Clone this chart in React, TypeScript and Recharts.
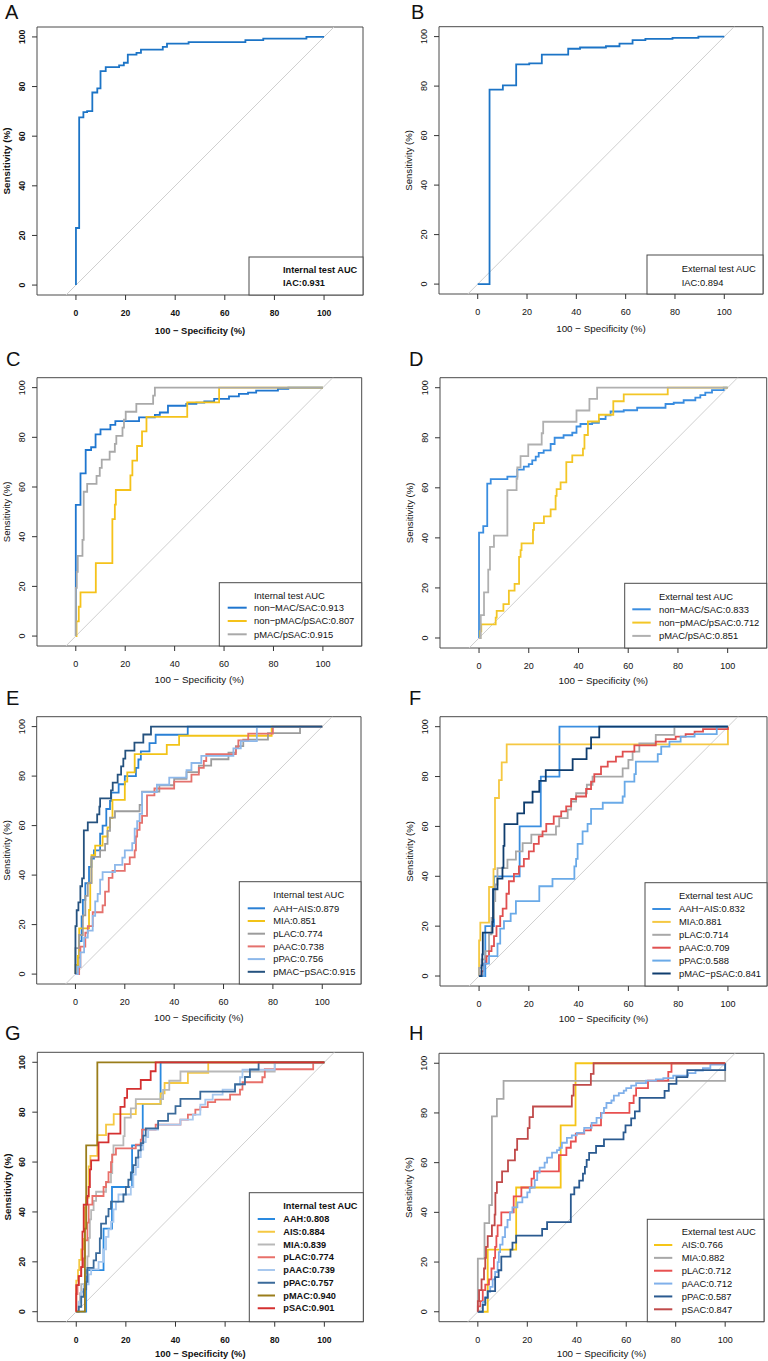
import React from 'react';
import { LineChart, Line, XAxis, YAxis, ReferenceLine, ReferenceArea } from 'recharts';

type Pt = [number, number];

const tickValues = [0, 20, 40, 60, 80, 100];
const xDomain: [number, number] = [-15.7, 115.7];
const yDomain: [number, number] = [-4, 104];
const xAxisTitle = '100 − Specificity (%)';
const yAxisTitle = 'Sensitivity (%)';

// ---------- Panel A ----------
const A_IAC: Pt[] = [[0,0],[0,23],[1.3,67.6],[3,69.7],[4.5,70.1],[6.6,77.6],[8.6,79.3],[9.9,86.2],[12,87.8],[17.4,88.5],[19.3,89.6],[20.9,92.9],[24.4,93.6],[26.2,94.9],[35,96],[36.7,97.3],[45.4,97.9],[68.3,98.7],[75.5,99.3],[92.9,100],[100,100]];
const labelsA = ['IAC:0.931'];

// ---------- Panel B ----------
const B_IAC: Pt[] = [[0,0],[4.8,0.4],[4.8,78.6],[10.2,80.3],[15.6,88.8],[20.9,89.2],[26,92.7],[36.7,95.1],[41.5,95.6],[52,96.1],[57.5,97.2],[62.8,98.6],[68,99.1],[79,99.5],[89.5,100],[100,100]];
const labelsB = ['IAC:0.894'];

// ---------- Panel C ----------
const C_nonMAC: Pt[] = [[0,0],[0,52.8],[1.9,65.5],[4,74.9],[6.2,76],[8,81.2],[10,83.2],[14,85],[16,86.5],[25.6,88],[32,89],[34,90],[37.3,92.7],[44.7,93.5],[48.8,94],[52,94.5],[56,95.5],[62,96.5],[66,97.5],[69.7,98],[73,98.8],[81.8,99.5],[86,100],[100,100]];
const C_nonPMAC: Pt[] = [[0,0],[0.3,5.9],[1.2,11.8],[1.9,17.6],[8.1,29.4],[14.8,47.1],[15.8,52.9],[16.2,58.8],[22.1,64.7],[22.9,70.6],[24.8,76.5],[26.8,82.4],[28.6,88.2],[45.1,94.1],[58,100],[100,100]];
const C_pMAC: Pt[] = [[0,0],[0,19.4],[0.4,25.8],[0.8,32.3],[2.7,38.7],[3.2,58.1],[4.6,61.3],[8.4,64.5],[9.7,67.7],[10.5,71],[13.7,74.2],[15.8,77.4],[16.4,80.6],[18.9,83.9],[19.5,87.1],[20.2,90.3],[24.5,93.5],[31.3,96.8],[32,100],[100,100]];
const labelsC = ['non−MAC/SAC:0.913', 'non−pMAC/pSAC:0.807', 'pMAC/pSAC:0.915'];

// ---------- Panel D ----------
const D_nonMAC: Pt[] = [[0,0],[0,42.1],[1.7,44.7],[3.3,61.7],[4.7,63.5],[11.4,64.5],[15.4,67.3],[18,68.5],[20,69.5],[21.4,71],[22.8,72.5],[24,74],[26,75],[28.8,77.5],[30.4,80],[34,81],[37.5,82],[39.2,84.5],[40.8,85.5],[45.5,86],[48.2,87.5],[50.9,89],[52.9,90.5],[58.2,91],[63.6,92],[75,93.5],[78.3,94],[82.3,95],[87,96],[89,97],[91,98],[93.7,99],[98.4,100],[100,100]];
const D_nonPMAC: Pt[] = [[0,0],[0.5,2.7],[0.9,5.4],[6.7,8.1],[7.1,10.8],[9.8,13.5],[12,18.9],[14.3,21.6],[16.1,32.4],[16.7,35.1],[17.1,37.8],[21.7,43.2],[22.1,45.9],[26.1,48.6],[28.8,51.4],[30.8,56.8],[31.2,59.5],[32.8,62.2],[35.1,70.3],[37.5,73],[41.8,75.7],[42.4,81.1],[43.8,86.5],[48.2,89.2],[54,94.6],[58.2,97.3],[75.9,100],[100,100]];
const D_pMAC: Pt[] = [[0,0],[0.7,9.1],[2,18.2],[3.7,27.3],[4.4,36.4],[6,40.9],[11.4,59.1],[15.1,63.6],[15.4,68.2],[16.7,72.7],[19.8,77.3],[25.2,81.8],[25.8,86.4],[39.2,90.9],[44.4,95.5],[47.5,100],[100,100]];
const labelsD = ['non−MAC/SAC:0.833', 'non−pMAC/pSAC:0.712', 'pMAC/pSAC:0.851'];

// ---------- Panel E ----------
const E_AAHAIS: Pt[] = [[0,0],[1,6.7],[1.5,13.3],[2.5,23.3],[3,30],[4,36.7],[5.5,43.3],[6.5,46.7],[7.5,50],[10,56.7],[11,60],[12.5,66.7],[14,70],[14.5,73.3],[17.5,76.7],[20,80],[24.5,83.3],[25.5,86.7],[26.5,90],[30,93.3],[32.5,96.7],[45.5,100],[100,100]];
const E_MIA: Pt[] = [[0,0],[0,3.7],[1,7.4],[1.5,18.5],[5.5,25.9],[6,37],[6.5,48.1],[8,51.9],[11,55.6],[13,59.3],[14,63],[15,70.4],[20,77.8],[21,81.5],[24,88.9],[37,92.6],[42,96.3],[79.5,100],[100,100]];
const E_pLAC: Pt[] = [[0,0],[0,10.5],[1.5,15.8],[3,23.7],[4,31.6],[5,36.8],[6.5,47.4],[10,50],[12,52.6],[13,57.9],[14,63.2],[16,65.8],[26,68.4],[27,73.7],[34,76.3],[40,78.9],[45,81.6],[50,84.2],[55,86.8],[62,89.5],[65,92.1],[68,94.7],[78,97.4],[91,100],[100,100]];
const E_pAAC: Pt[] = [[0,0],[1.5,2.8],[2,11.1],[4,16.7],[5,19.4],[7,25],[11,27.8],[12,33.3],[13.5,38.9],[15,41.7],[20,44.4],[22,47.2],[24,50],[24.5,55.6],[25,58.3],[26,61.1],[27,63.9],[29,72.2],[32,75],[40,77.8],[47,80.6],[50,83.3],[52,86.1],[53,88.9],[65,91.7],[66,94.4],[70,97.2],[80,100],[100,100]];
const E_pPAC: Pt[] = [[0,0],[1,2.9],[2,8.8],[3.5,14.7],[5,17.6],[7,23.5],[8,29.4],[9,32.4],[10,38.2],[11,41.2],[16,44.1],[19,47.1],[20,50],[23,52.9],[24,58.8],[25,61.8],[26,64.7],[27,73.5],[33,76.5],[38,79.4],[45,82.4],[47,85.3],[51,88.2],[64,91.2],[67,94.1],[73.5,100],[100,100]];
const E_pMACpSAC: Pt[] = [[0,0],[0,19.4],[0.5,25.8],[1.2,29],[2,35.5],[2.7,38.7],[3.4,58.1],[5,61.3],[8.8,64.5],[9.7,67.7],[10,71],[14.4,74.2],[15.1,77.4],[17.1,80.6],[18.5,83.9],[19.4,87.1],[20.2,90.3],[23.9,93.5],[27.5,96.8],[30.6,100],[100,100]];
const labelsE = ['AAH−AIS:0.879', 'MIA:0.851', 'pLAC:0.774', 'pAAC:0.738', 'pPAC:0.756', 'pMAC−pSAC:0.915'];

// ---------- Panel F ----------
const F_AAHAIS: Pt[] = [[0,0],[2.5,20],[6,40],[16.3,60],[24.8,80],[32.3,100],[100,100]];
const F_MIA: Pt[] = [[0,0],[0,14.3],[0.5,21.4],[4,35.7],[5.8,42.9],[6.4,71.4],[8,78.6],[9.1,85.7],[11.1,92.9],[100,100]];
const F_pLAC: Pt[] = [[0,0],[0,3.3],[1,6.7],[2.5,10],[4,16.7],[5,23.3],[6,30],[6.5,36.7],[7.4,43.3],[11.4,46.7],[14.8,50],[17.5,53.3],[21,56.7],[30.9,60],[32.2,63.3],[35.6,66.7],[37,70],[39,73.3],[43.3,76.7],[45.6,80],[57.7,83.3],[60,86.7],[61.7,90],[64.4,93.3],[71,96.7],[78.5,100],[100,100]];
const F_pAAC: Pt[] = [[0,0],[1,2],[2,5],[3,8],[4,10],[5,12],[6,16],[7,20],[8.5,24],[9.5,27],[11,33],[12,38],[14,41],[16,44],[18,47],[20,50],[22,53],[24,56],[25.5,58],[27,61],[30,64],[33,66],[35,68],[37,71],[39,72],[43,75],[45,78],[46.3,81],[49,84],[51.7,86],[55,88],[57.7,90],[62.4,92.5],[71,94],[75,95],[79,96],[83,97],[86.6,98],[90,99],[100,100]];
const F_pPAC: Pt[] = [[0,0],[2,5],[4,8],[7.4,13],[8.5,19],[10,22],[12.7,25],[14.8,30],[24.2,36],[29.5,39],[38.3,44],[39,47],[39.6,53],[41.6,58],[43.6,61],[45,67],[49.7,69.5],[57.7,72],[58.5,78],[62.4,81],[63,86],[71.8,89],[73.2,92],[76.5,94],[81,96],[86.6,97],[95.5,100],[100,100]];
const F_pMACpSAC: Pt[] = [[0,0],[1,4.3],[1.3,8.7],[1.5,17.4],[5.4,21.7],[5.6,34.8],[7.4,39.1],[9.4,43.5],[9.8,52.2],[10.2,60.9],[15.4,65.2],[18.1,69.6],[21.5,73.9],[24.2,78.3],[26.8,82.6],[37.6,87],[43.2,91.3],[45,95.7],[48.3,100],[100,100]];
const labelsF = ['AAH−AIS:0.832', 'MIA:0.881', 'pLAC:0.714', 'pAAC:0.709', 'pPAC:0.588', 'pMAC−pSAC:0.841'];

// ---------- Panel G ----------
const G_AAH: Pt[] = [[0,0],[4,16.7],[11,33.3],[14.4,50],[22.5,66.7],[26.8,83.3],[34,100],[100,100]];
const G_AIS: Pt[] = [[0,0],[0,12.5],[0.7,16.7],[1.2,20.8],[2,25],[3,29.2],[3.5,41.7],[4,45.8],[5,58.3],[5.7,62.5],[8.5,70.8],[12,75],[15.1,79.2],[24,83.3],[34,87.5],[35.6,91.7],[45,95.8],[53.2,100],[100,100]];
const G_MIA: Pt[] = [[0,0],[1,3.7],[1.5,7.4],[2,11.1],[3.5,14.8],[4.5,22.2],[5,29.6],[5.5,37],[6,40.7],[7,44.4],[8,48.1],[12,51.9],[14,55.6],[14.5,63],[15,66.7],[19,70.4],[19.5,77.8],[22,81.5],[24,85.2],[35,88.9],[37.5,92.6],[42,96.3],[80,100],[100,100]];
const G_pLAC: Pt[] = [[0,0],[0,7.1],[0.5,10.7],[1,14.3],[2,17.9],[3,21.4],[3.5,28.6],[4.5,35.7],[5,42.9],[6.5,46.4],[11,50],[12,52],[13,56],[14,60],[14.5,63],[16,65.5],[24,67],[26,69],[26.5,73],[32,75],[42,77],[45,79],[48,81],[50,82],[53,84],[56,85],[62,87],[66,89],[67,92],[75,94],[76,97.2],[95.5,100],[100,100]];
const G_pAAC: Pt[] = [[0,0],[1,4],[2,8],[3,11],[5,15],[6,17],[9,20],[11,25],[12,30],[13,33],[14,36],[15,41],[16,44],[17,47],[22,50],[23,55],[24,58],[25,62],[26,65],[27,68],[28,70],[29,73],[33,75],[42,77],[47,79],[50,83],[52,85],[55,87],[59,89],[64,91],[66,94],[67,97],[80,100],[100,100]];
const G_pPAC: Pt[] = [[0,0],[1,2],[2,6],[3,9],[4,12],[4.5,17.6],[7,20.6],[8,23.5],[9.5,29.4],[10,35.3],[12,38.2],[13,41.2],[14,44.1],[19,47],[20,50],[21,52.9],[22,55.9],[23,58.8],[24,61.8],[25,64.7],[26,67.6],[27,70.6],[28,73.5],[33,76.5],[37,79.4],[40,82.4],[42,85.3],[50,88.2],[64,91.2],[68,94.1],[70,97.1],[73.5,100],[100,100]];
const G_pMAC: Pt[] = [[0,0],[3.5,33.3],[4,66.7],[8.5,100],[100,100]];
const G_pSAC: Pt[] = [[0,0],[0,10.7],[1,14.3],[2,17.9],[2.5,32.1],[3,42.9],[4.5,46.4],[5,50],[5.5,57.1],[6,60.7],[9,67.9],[13,71.4],[17.8,82.1],[19.5,85.7],[20.5,89.3],[26,92.9],[30,96.4],[32,100],[100,100]];
const labelsG = ['AAH:0.808', 'AIS:0.884', 'MIA:0.839', 'pLAC:0.774', 'pAAC:0.739', 'pPAC:0.757', 'pMAC:0.940', 'pSAC:0.901'];

// ---------- Panel H ----------
const H_AIS: Pt[] = [[0,0],[4,25],[15.5,50],[33.5,75],[39.5,100],[100,100]];
const H_MIA: Pt[] = [[0,0],[0,21.4],[2.7,35.7],[4.6,42.9],[5.7,78.6],[7.7,85.7],[10.4,92.9],[100,100]];
const H_pLAC: Pt[] = [[0,0],[0,2.2],[1,4.3],[2,8.7],[3,10.9],[4.5,13],[5.5,17.4],[6.5,21.7],[7,26.1],[7.5,30.4],[8,34.8],[9.5,40],[14.5,46.4],[17.6,50],[21.7,53.6],[22.7,56.5],[32.8,63],[35.8,66],[37.6,68.5],[39.6,71.7],[43,73],[45.7,75],[49.8,80],[61.3,84],[63,87],[64,90],[68.8,93],[77,96.5],[78.3,100],[100,100]];
const H_pAAC: Pt[] = [[0,0],[2,4],[3,6],[4,8],[5,10],[6,13],[7,16],[8,20],[8.5,24],[9,27],[10,30],[11,34],[12,37],[13,40],[14,42],[16,44],[18,46],[20,48],[21,50],[23,53],[24,56],[25,58],[27,60],[28,62],[30,64],[32,65],[33,66],[34,68],[36,70],[38,71],[40,72],[43,74],[46,76],[48,78],[50,80],[51,82],[52,84],[54,85],[55,87],[57,88],[59,89],[60,90],[62,91],[64,92],[68,93],[72,93.5],[75,94],[79,95],[85,96],[88,97],[91,98],[94,99.5],[100,100]];
const H_pPAC: Pt[] = [[0,0],[2,2.8],[3,5.6],[4,8.3],[7,13.9],[8.4,16.7],[9.5,22.2],[13.2,25],[14,27.8],[15.5,30.6],[26,33.3],[28,36.1],[37.6,47.2],[39,50],[41,52.8],[42.5,55.6],[43.3,58.3],[44,61.1],[45,63.9],[47.8,66.7],[51,69.4],[58.9,72.2],[59.7,75],[62,77.8],[63.5,80.6],[65.4,86.1],[75.5,88.9],[77.2,91.7],[80.3,94.4],[84.7,97.2],[100,100]];
const H_pSAC: Pt[] = [[0,0],[0,4.3],[0.5,8.7],[1.5,13],[2.5,17.4],[3,21.7],[3.3,26.1],[4,30.4],[5.7,34.8],[6.8,39.1],[7.1,47.8],[7.7,52.2],[9.8,56.5],[12.2,60.9],[15,65.2],[15.9,69.6],[20.2,73.9],[20.9,78.3],[22.3,82.6],[38,87],[38.7,91.3],[45.7,95.7],[46.8,100],[100,100]];
const labelsH = ['AIS:0.766', 'MIA:0.882', 'pLAC:0.712', 'pAAC:0.712', 'pPAC:0.587', 'pSAC:0.847'];

// ---------- styles / layout ----------
const FONT = '"Liberation Sans", Arial, Helvetica, sans-serif';

interface Series { label: string; color: string; pts: Pt[] }
interface LegendCfg { box: [number, number, number, number]; textX: number; titleY: number; ys: number[]; line: [number, number] | null }
interface PanelCfg {
  letter: string; col: number; top: number; bold: boolean;
  box: [number, number, number, number]; letterPos: [number, number];
  title: string; legend: LegendCfg; series: Series[]; xTitleDy: number;
}

const steps = (start: number, step: number, n: number) => Array.from({ length: n }, (_, i) => start + i * step);

const panels: PanelCfg[] = [
  { letter: 'A', col: 0, top: 0, bold: true, box: [37, 27, 363, 295], letterPos: [5, 19], xTitleDy: 36,
    title: 'Internal test AUC',
    legend: { box: [249, 257, 363, 295], textX: 283, titleY: 270, ys: [283], line: null },
    series: [{ label: labelsA[0], color: '#1c74c6', pts: A_IAC }] },
  { letter: 'B', col: 384, top: 0, bold: false, box: [439, 26.7, 763, 294], letterPos: [411, 19], xTitleDy: 35,
    title: 'External test AUC',
    legend: { box: [647, 255, 763, 294], textX: 681.7, titleY: 268.3, ys: [282.7], line: null },
    series: [{ label: labelsB[0], color: '#1c74c6', pts: B_IAC }] },
  { letter: 'C', col: 0, top: 340, bold: false, box: [37, 377.7, 361.7, 646], letterPos: [6, 366], xTitleDy: 34,
    title: 'Internal test AUC',
    legend: { box: [219.3, 582.7, 361.7, 646], textX: 254, titleY: 596, ys: steps(607.7, 13.3, 3), line: [227.7, 246.7] },
    series: [
      { label: labelsC[0], color: '#1f76cf', pts: C_nonMAC },
      { label: labelsC[1], color: '#f5c21a', pts: C_nonPMAC },
      { label: labelsC[2], color: '#a9a9a9', pts: C_pMAC },
    ] },
  { letter: 'D', col: 384, top: 340, bold: false, box: [440, 377.7, 766.7, 648], letterPos: [409, 366], xTitleDy: 33,
    title: 'External test AUC',
    legend: { box: [624.7, 583.3, 766.7, 648], textX: 659, titleY: 596.7, ys: steps(609.3, 13.3, 3), line: [632.3, 650.7] },
    series: [
      { label: labelsD[0], color: '#3a8de0', pts: D_nonMAC },
      { label: labelsD[1], color: '#f3c626', pts: D_nonPMAC },
      { label: labelsD[2], color: '#b0b0b0', pts: D_pMAC },
    ] },
  { letter: 'E', col: 0, top: 680, bold: false, box: [36.7, 716.7, 361, 984], letterPos: [6, 705], xTitleDy: 34,
    title: 'Internal test AUC',
    legend: { box: [239.3, 881.7, 361, 984], textX: 273.3, titleY: 895, ys: steps(908.3, 12.7, 6), line: [247.7, 265] },
    series: [
      { label: labelsE[0], color: '#2a80d5', pts: E_AAHAIS },
      { label: labelsE[1], color: '#f2c318', pts: E_MIA },
      { label: labelsE[2], color: '#9c9c9c', pts: E_pLAC },
      { label: labelsE[3], color: '#e4716d', pts: E_pAAC },
      { label: labelsE[4], color: '#8db8ea', pts: E_pPAC },
      { label: labelsE[5], color: '#25527f', pts: E_pMACpSAC },
    ] },
  { letter: 'F', col: 384, top: 680, bold: false, box: [440, 716.7, 767, 986], letterPos: [409, 705], xTitleDy: 33,
    title: 'External test AUC',
    legend: { box: [645, 882.7, 767, 986], textX: 679, titleY: 896, ys: steps(909, 12.9, 6), line: [652.3, 670.7] },
    series: [
      { label: labelsF[0], color: '#3a8ee0', pts: F_AAHAIS },
      { label: labelsF[1], color: '#f5c842', pts: F_MIA },
      { label: labelsF[2], color: '#a8a8a8', pts: F_pLAC },
      { label: labelsF[3], color: '#e05050', pts: F_pAAC },
      { label: labelsF[4], color: '#6aaae8', pts: F_pPAC },
      { label: labelsF[5], color: '#0f3d6e', pts: F_pMACpSAC },
    ] },
  { letter: 'G', col: 0, top: 1020, bold: true, box: [37.3, 1052.3, 363.3, 1321.7], letterPos: [5, 1040], xTitleDy: 32,
    title: 'Internal test AUC',
    legend: { box: [249.3, 1192.7, 363.3, 1321.7], textX: 283.3, titleY: 1205.7, ys: steps(1219, 12.75, 8), line: [257.7, 275] },
    series: [
      { label: labelsG[0], color: '#2a8ae0', pts: G_AAH },
      { label: labelsG[1], color: '#f5c842', pts: G_AIS },
      { label: labelsG[2], color: '#b8b8b8', pts: G_MIA },
      { label: labelsG[3], color: '#e8706a', pts: G_pLAC },
      { label: labelsG[4], color: '#a8c8ee', pts: G_pAAC },
      { label: labelsG[5], color: '#3a6a9a', pts: G_pPAC },
      { label: labelsG[6], color: '#9a7d1a', pts: G_pMAC },
      { label: labelsG[7], color: '#d43030', pts: G_pSAC },
    ] },
  { letter: 'H', col: 384, top: 1020, bold: false, box: [439, 1053.3, 764, 1321.7], letterPos: [409, 1040], xTitleDy: 32,
    title: 'External test AUC',
    legend: { box: [647.3, 1219.3, 764, 1321.7], textX: 681.7, titleY: 1231.7, ys: steps(1245, 12.86, 6), line: [654, 672.3] },
    series: [
      { label: labelsH[0], color: '#f5c518', pts: H_AIS },
      { label: labelsH[1], color: '#a8a8a8', pts: H_MIA },
      { label: labelsH[2], color: '#e85050', pts: H_pLAC },
      { label: labelsH[3], color: '#80b0ea', pts: H_pAAC },
      { label: labelsH[4], color: '#2a5a90', pts: H_pPAC },
      { label: labelsH[5], color: '#c04a4a', pts: H_pSAC },
    ] },
];

const toData = (pts: Pt[]) => pts.map(([x, y]) => ({ x, y }));

const PW = 384;
const PH = 340;
const Y_W = 30;
const X_H = 30;

function Panel({ p }: { p: PanelCfg }) {
  const L = p.box[0] - p.col;
  const T = p.box[1] - p.top;
  const R = p.box[2] - p.col;
  const B = p.box[3] - p.top;
  const margin = { left: L - Y_W, top: T, right: PW - R, bottom: PH - B - X_H };
  const weight = p.bold ? 'bold' : 'normal';
  const tickFs = p.bold ? 8.6 : 9;
  const legendFs = p.bold ? 9.2 : 9.4;
  const x50 = L + ((50 - xDomain[0]) / (xDomain[1] - xDomain[0])) * (R - L);
  const lg = p.legend;
  const yTitleX = L - 30;

  const xTick = (props: any) => (
    <text x={props.x} y={props.y + 13} dy="0.35em" textAnchor="middle" fontFamily={FONT}
      fontSize={tickFs} fontWeight={weight} fill="#111">{props.payload.value}</text>
  );
  const yTick = (props: any) => {
    const cx = props.x - 10;
    return (
      <text x={cx} y={props.y} dy="0.35em" textAnchor="middle" transform={`rotate(-90 ${cx} ${props.y})`}
        fontFamily={FONT} fontSize={tickFs} fontWeight={weight} fill="#111">{props.payload.value}</text>
    );
  };

  return (
    <div style={{ position: 'absolute', left: p.col, top: p.top, width: PW, height: PH }}>
      <LineChart width={PW} height={PH} margin={margin}>
        <XAxis type="number" dataKey="x" domain={xDomain} allowDataOverflow ticks={tickValues} interval={0}
          axisLine={false} tickLine={{ stroke: '#333' }} tickSize={5} tickMargin={0} height={X_H} tick={xTick} />
        <YAxis type="number" domain={yDomain} allowDataOverflow ticks={tickValues} interval={0}
          axisLine={false} tickLine={{ stroke: '#333' }} tickSize={5} tickMargin={0} width={Y_W} tick={yTick} />
        <ReferenceArea x1={xDomain[0]} x2={xDomain[1]} y1={yDomain[0]} y2={yDomain[1]} fill="none" fillOpacity={0}
          stroke="#4a4a4a" strokeWidth={1} ifOverflow="visible" />
        <ReferenceLine segment={[{ x: -4, y: -4 }, { x: 104, y: 104 }]} stroke="#cfcfcf" strokeWidth={1} ifOverflow="visible" />
        {p.series.map((s) => (
          <Line key={s.label} data={toData(s.pts)} dataKey="y" type="stepAfter" stroke={s.color}
            strokeWidth={1.8} dot={false} activeDot={false} isAnimationActive={false} />
        ))}
      </LineChart>
      <svg width={PW} height={PH} style={{ position: 'absolute', left: 0, top: 0, pointerEvents: 'none', overflow: 'visible' }}>
        <text x={p.letterPos[0] - p.col} y={p.letterPos[1] - p.top} fontFamily={FONT} fontSize={20} fill="#111">{p.letter}</text>
        <text x={x50} y={B + p.xTitleDy} dy="0.35em" textAnchor="middle" fontFamily={FONT} fontSize={p.bold ? 9.4 : 9.8}
          fontWeight={weight} fill="#111">{xAxisTitle}</text>
        <text x={yTitleX} y={(T + B) / 2} dy="0.35em" textAnchor="middle" transform={`rotate(-90 ${yTitleX} ${(T + B) / 2})`}
          fontFamily={FONT} fontSize={p.bold ? 9.8 : 9.6} fontWeight={weight} fill="#111">{yAxisTitle}</text>
        <rect x={lg.box[0] - p.col} y={lg.box[1] - p.top} width={lg.box[2] - lg.box[0]} height={lg.box[3] - lg.box[1]}
          fill="#ffffff" stroke="#4a4a4a" strokeWidth={1} />
        <text x={lg.textX - p.col} y={lg.titleY - p.top} dy="0.35em" fontFamily={FONT} fontSize={legendFs}
          fontWeight={weight} fill="#111">{p.title}</text>
        {p.series.map((s, i) => (
          <g key={s.label}>
            {lg.line && (
              <line x1={lg.line[0] - p.col} x2={lg.line[1] - p.col} y1={lg.ys[i] - p.top} y2={lg.ys[i] - p.top}
                stroke={s.color} strokeWidth={2} />
            )}
            <text x={lg.textX - p.col} y={lg.ys[i] - p.top} dy="0.35em" fontFamily={FONT} fontSize={legendFs}
              fontWeight={weight} fill="#111">{s.label}</text>
          </g>
        ))}
      </svg>
    </div>
  );
}

export default function App() {
  return (
    <div style={{ position: 'absolute', left: 0, top: 0, width: 768, height: 1361, background: '#ffffff', overflow: 'hidden' }}>
      {panels.map((p) => (
        <Panel key={p.letter} p={p} />
      ))}
    </div>
  );
}
